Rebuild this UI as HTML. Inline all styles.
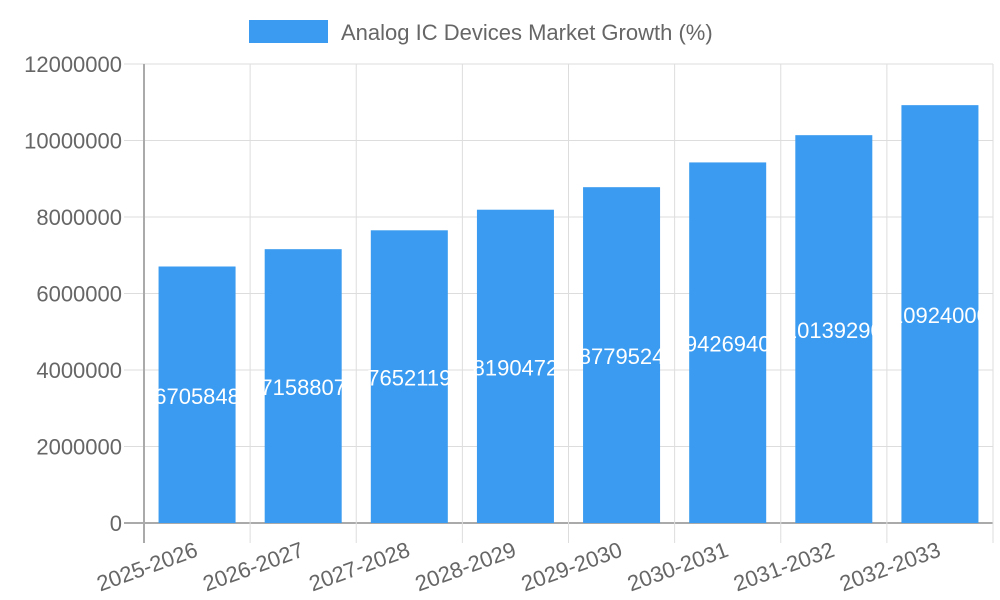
<!DOCTYPE html>
<html><head><meta charset="utf-8"><style>
html,body{margin:0;padding:0;background:#fff;}
svg{display:block;font-family:"Liberation Sans",sans-serif;}
</style></head><body>
<svg id="chart" width="1000" height="600">
<g id="legend">
<rect x="249" y="20" width="79" height="23" fill="#3a9bf0"></rect>
<text x="341" y="40" font-size="22" fill="#666">Analog IC Devices Market Growth (%)</text>
</g>
<g id="grid"></g><g id="bars"></g><g id="axes"></g>
</svg>
<script>
const categories=["2025-2026","2026-2027","2027-2028","2028-2029","2029-2030","2030-2031","2031-2032","2032-2033"];
const values=[6705848,7158807,7652119,8190472,8779524,9426940,10139290,10924000];
const yTicks=[0,2000000,4000000,6000000,8000000,10000000,12000000];
const NS="http://www.w3.org/2000/svg";
const L=144,R=993,T=64,B=523,YMAX=12000000;
const bw=(R-L)/categories.length;
function y(v){return B-(v/YMAX)*(B-T);}
function x(i){return L+bw*i;}
function mk(tag,attrs,parent,text){const e=document.createElementNS(NS,tag);for(const k in attrs)e.setAttribute(k,attrs[k]);if(text!==undefined)e.textContent=text;document.getElementById(parent).appendChild(e);return e;}
yTicks.forEach(t=>{
 const g=mk('line',{x1:L-20,x2:R,y1:y(t),y2:y(t),stroke:t===0?'#aaa':'#ddd','stroke-width':t===0?2:1},'grid');
 
 
 const lb=mk('text',{x:L-22,y:y(t)+8,'text-anchor':'end','font-size':22,fill:'#666'},'axes',String(t));
 
 
});
for(let i=0;i<=categories.length;i++){
 const g=mk('line',{x1:x(i),x2:x(i),y1:T,y2:B+20,stroke:i===0?'#aaa':'#ddd','stroke-width':i===0?2:1},'grid');
 
 
}
categories.forEach((c,i)=>{
 const cx=x(i)+bw/2, w=77;
 const r=mk('rect',{x:cx-w/2,y:y(values[i]),width:w,height:B-y(values[i]),fill:'#3a9bf0'},'bars');
 
 
 const v=mk('text',{x:cx,y:(y(values[i])+B)/2+9,'text-anchor':'middle','font-size':22,fill:'#fff'},'bars',String(values[i]));
 
 
 const lb=mk('text',{x:cx,y:B+33,'text-anchor':'end','font-size':22,fill:'#666',transform:`rotate(-20 ${cx} ${B+27})`},'axes',c);
 
 
});
</script>
</body></html>
